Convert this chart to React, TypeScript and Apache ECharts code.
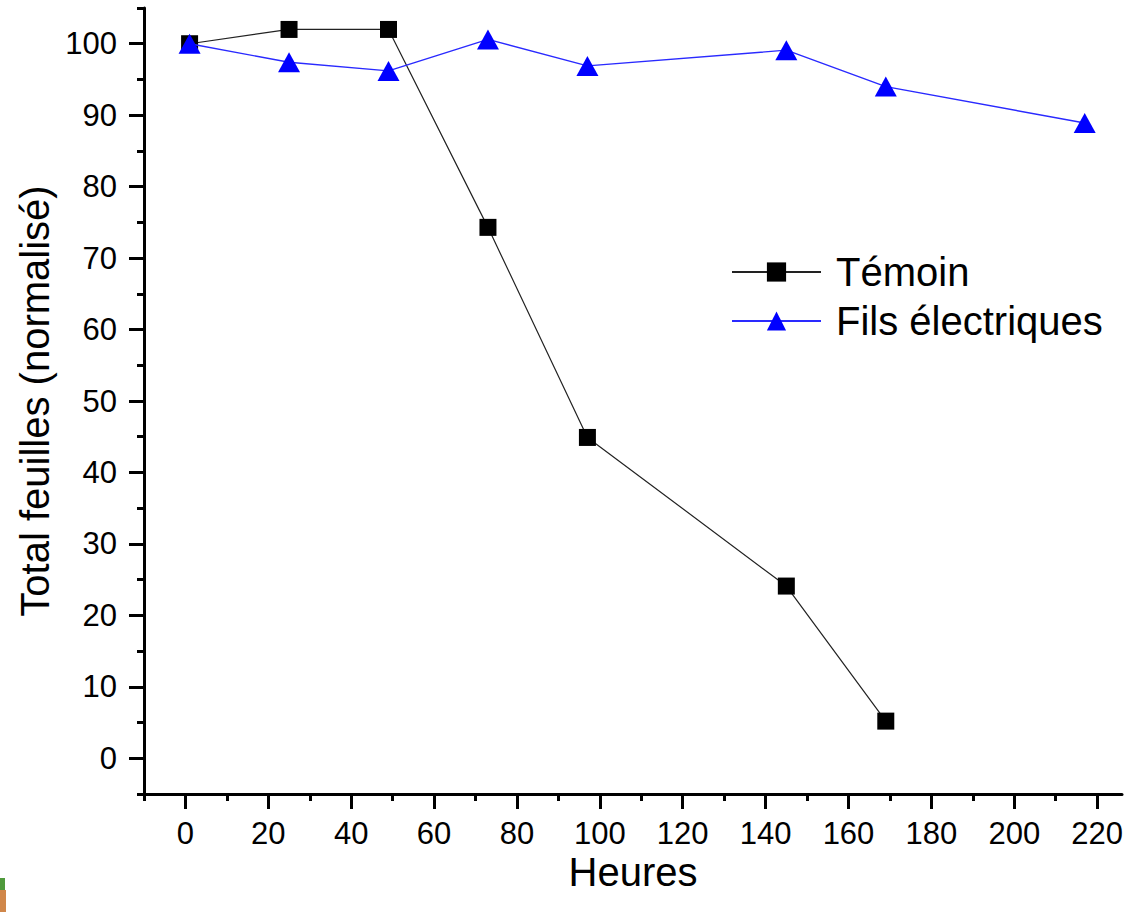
import React, { useEffect, useRef } from "react";
import * as echarts from "echarts";

const temoinHours = [1, 25, 49, 73, 97, 145, 169];
const temoinValues = [100, 102, 102, 74.3, 44.9, 24.1, 5.2];
const filsHours = [1, 25, 49, 73, 97, 145, 169, 217];
const filsValues = [100, 97.4, 96.2, 100.6, 96.9, 99.1, 94.0, 88.9];

const xMajorTicks = [0, 20, 40, 60, 80, 100, 120, 140, 160, 180, 200, 220];
const xMinorTicks = [-10, 10, 30, 50, 70, 90, 110, 130, 150, 170, 190, 210];
const yMajorTicks = [0, 10, 20, 30, 40, 50, 60, 70, 80, 90, 100];
const yMinorTicks = [-5, 5, 15, 25, 35, 45, 55, 65, 75, 85, 95, 105];

const FONT = "'Liberation Sans', Arial, sans-serif";

export default function App() {
  const ref = useRef<HTMLDivElement>(null);
  useEffect(() => {
    if (!ref.current) return;
    const chart = echarts.init(ref.current, null, { renderer: "svg" });
    const axisCommon = {
      type: "value" as const,
      splitLine: { show: false },
    };
    chart.setOption({
      animation: false,
      backgroundColor: "#ffffff",
      grid: { left: 144, right: 8, top: 8, bottom: 118, containLabel: false },
      legend: {
        orient: "vertical",
        left: 731,
        top: 252,
        padding: 0,
        itemWidth: 89,
        itemHeight: 24,
        itemGap: 9,
        textStyle: {
          fontFamily: FONT,
          fontSize: 40,
          lineHeight: 40,
          color: "#000",
          padding: [0, 0, 0, 10],
        },
        data: ["Témoin", "Fils électriques"],
      },
      xAxis: [
        {
          ...axisCommon,
          min: -10,
          max: 226,
          position: "bottom",
          axisLine: { show: true, onZero: false, lineStyle: { color: "#000", width: 3 } },
          axisTick: { show: true, customValues: xMajorTicks, length: 15, lineStyle: { color: "#000", width: 3 } },
          axisLabel: { customValues: xMajorTicks, margin: 24, fontSize: 31, lineHeight: 31, color: "#000", fontFamily: FONT },
          name: "Heures",
          nameLocation: "middle",
          nameGap: 61,
          nameMoveOverlap: false,
          nameTextStyle: { fontSize: 40, lineHeight: 34, color: "#000", fontFamily: FONT },
        },
        {
          ...axisCommon,
          min: -10,
          max: 226,
          position: "bottom",
          axisLine: { show: false, onZero: false },
          axisTick: { show: true, customValues: xMinorTicks, length: 7, lineStyle: { color: "#000", width: 3 } },
          axisLabel: { show: false },
        },
      ],
      yAxis: [
        {
          ...axisCommon,
          min: -5,
          max: 105,
          position: "left",
          axisLine: { show: true, onZero: false, lineStyle: { color: "#000", width: 3 } },
          axisTick: { show: true, customValues: yMajorTicks, length: 15, lineStyle: { color: "#000", width: 3 } },
          axisLabel: { customValues: yMajorTicks, margin: 27, fontSize: 31, color: "#000", fontFamily: FONT },
          name: "Total feuilles (normalisé)",
          nameLocation: "middle",
          nameGap: 89,
          nameMoveOverlap: false,
          nameTextStyle: { fontSize: 40, color: "#000", fontFamily: FONT },
        },
        {
          ...axisCommon,
          min: -5,
          max: 105,
          position: "left",
          axisLine: { show: false, onZero: false },
          axisTick: { show: true, customValues: yMinorTicks, length: 7, lineStyle: { color: "#000", width: 3 } },
          axisLabel: { show: false },
        },
      ],
      series: [
        {
          name: "Témoin",
          type: "line",
          xAxisIndex: 0,
          yAxisIndex: 0,
          data: temoinHours.map((h, i) => [h, temoinValues[i]]),
          symbol: "rect",
          symbolSize: 17,
          showAllSymbol: true,
          lineStyle: { color: "#222", width: 1.2 },
          itemStyle: { color: "#000" },
          z: 2,
        },
        {
          name: "Fils électriques",
          type: "line",
          xAxisIndex: 0,
          yAxisIndex: 0,
          data: filsHours.map((h, i) => [h, filsValues[i]]),
          symbol: "triangle",
          symbolSize: [22, 20],
          showAllSymbol: true,
          lineStyle: { color: "#2a2aff", width: 1.4 },
          itemStyle: { color: "#0000ff" },
          z: 3,
        },
      ],
      graphic: [
        { type: "rect", shape: { x: 0, y: 878, width: 5, height: 12 }, style: { fill: "#4f9a3c" } },
        { type: "rect", shape: { x: 0, y: 890, width: 6, height: 22 }, style: { fill: "#d0874a" } },
      ],
    });
    return () => chart.dispose();
  }, []);
  return (
    <div
      ref={ref}
      style={{ position: "fixed", left: 0, top: 0, width: 1130, height: 912, background: "#fff" }}
    />
  );
}
